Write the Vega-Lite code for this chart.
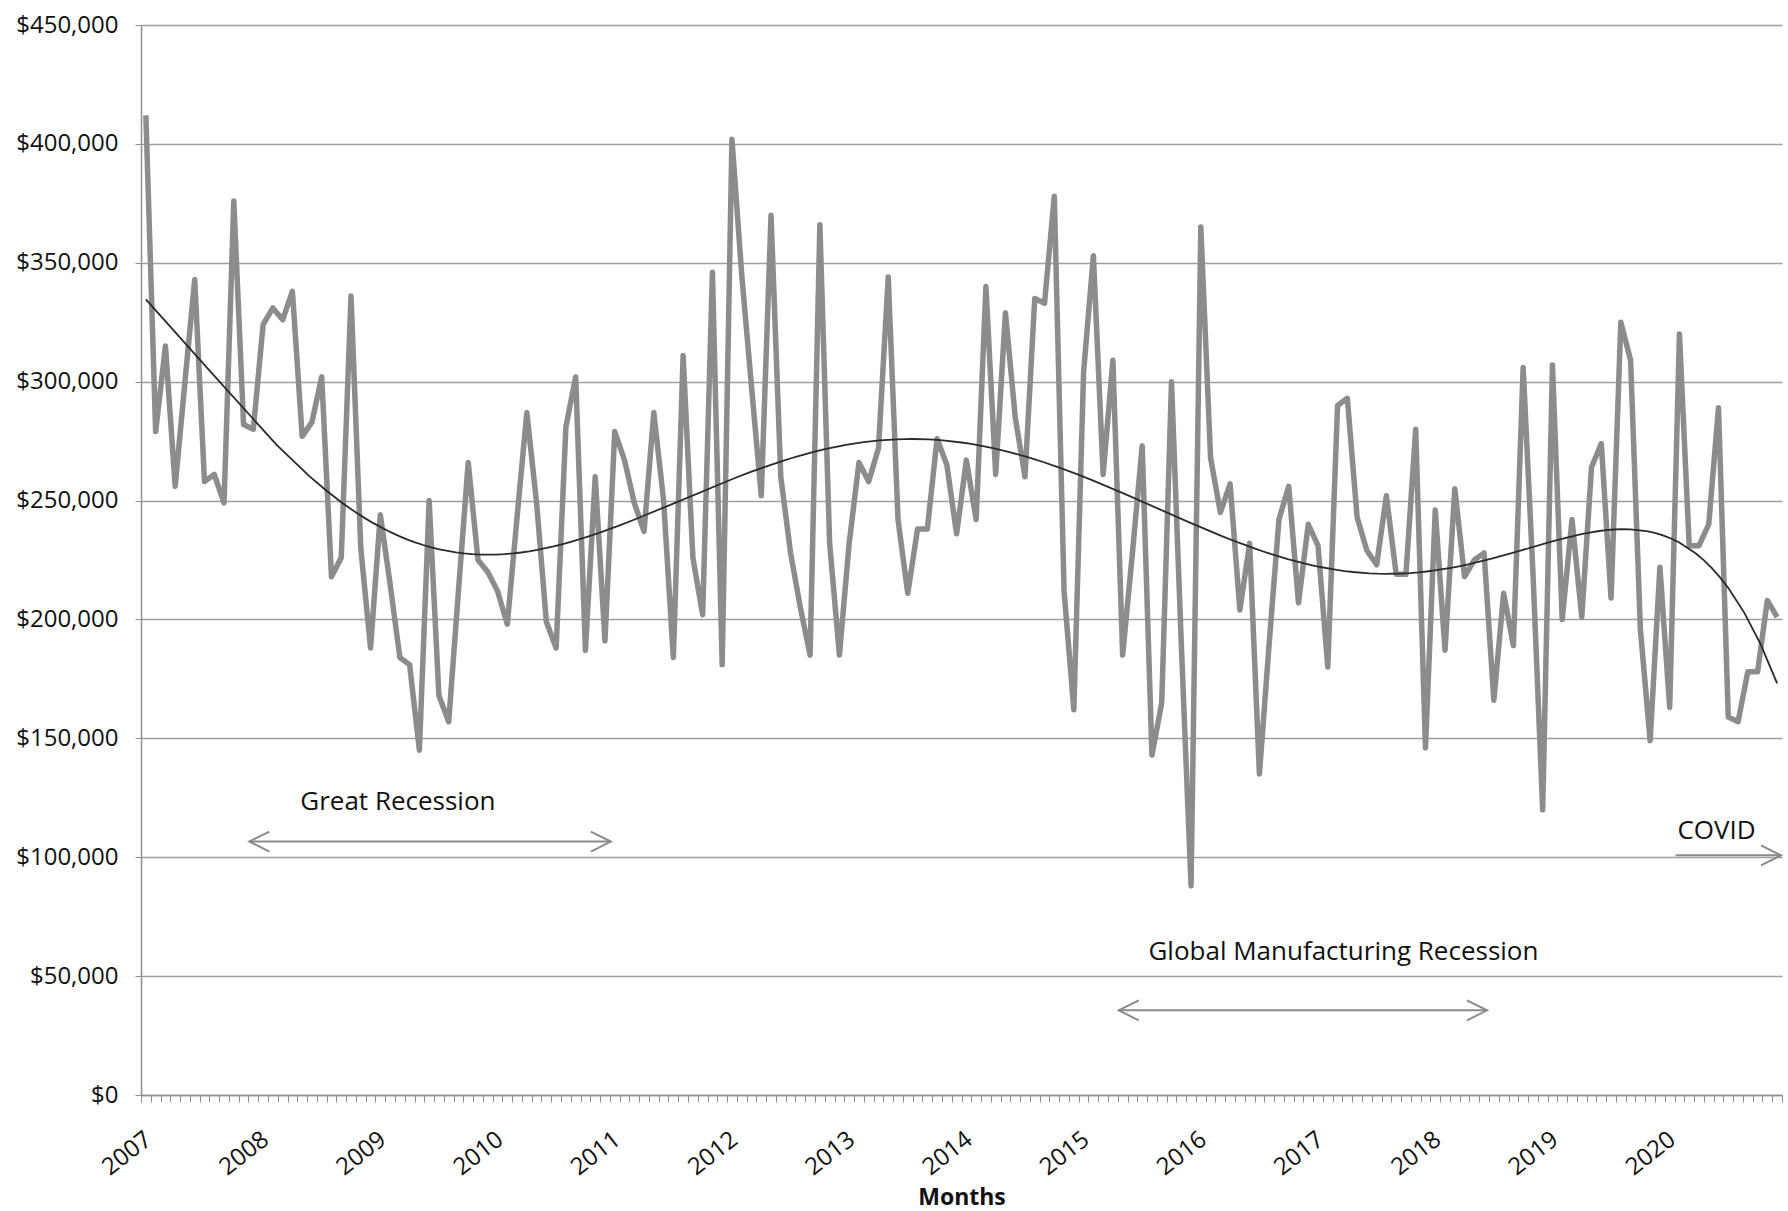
{
  "$schema": "https://vega.github.io/schema/vega-lite/v6.json",
  "width": 1641,
  "height": 1070,
  "autosize": {"type": "none"},
  "padding": {"left": 141, "top": 25, "right": 6, "bottom": 116},
  "background": "white",
  "config": {"view": {"stroke": null}, "font": "Open Sans"},
  "data": {"values": [
    {"month":"2007-01","m":0,"value":412000},{"month":"2007-02","m":1,"value":279000},{"month":"2007-03","m":2,"value":315000},{"month":"2007-04","m":3,"value":256000},{"month":"2007-05","m":4,"value":300000},{"month":"2007-06","m":5,"value":343000},{"month":"2007-07","m":6,"value":258000},{"month":"2007-08","m":7,"value":261000},{"month":"2007-09","m":8,"value":249000},{"month":"2007-10","m":9,"value":376000},{"month":"2007-11","m":10,"value":282000},{"month":"2007-12","m":11,"value":280000},
    {"month":"2008-01","m":12,"value":324000},{"month":"2008-02","m":13,"value":331000},{"month":"2008-03","m":14,"value":326000},{"month":"2008-04","m":15,"value":338000},{"month":"2008-05","m":16,"value":277000},{"month":"2008-06","m":17,"value":283000},{"month":"2008-07","m":18,"value":302000},{"month":"2008-08","m":19,"value":218000},{"month":"2008-09","m":20,"value":226000},{"month":"2008-10","m":21,"value":336000},{"month":"2008-11","m":22,"value":230000},{"month":"2008-12","m":23,"value":188000},
    {"month":"2009-01","m":24,"value":244000},{"month":"2009-02","m":25,"value":215000},{"month":"2009-03","m":26,"value":184000},{"month":"2009-04","m":27,"value":181000},{"month":"2009-05","m":28,"value":145000},{"month":"2009-06","m":29,"value":250000},{"month":"2009-07","m":30,"value":168000},{"month":"2009-08","m":31,"value":157000},{"month":"2009-09","m":32,"value":212000},{"month":"2009-10","m":33,"value":266000},{"month":"2009-11","m":34,"value":225000},{"month":"2009-12","m":35,"value":220000},
    {"month":"2010-01","m":36,"value":212000},{"month":"2010-02","m":37,"value":198000},{"month":"2010-03","m":38,"value":243000},{"month":"2010-04","m":39,"value":287000},{"month":"2010-05","m":40,"value":249000},{"month":"2010-06","m":41,"value":199000},{"month":"2010-07","m":42,"value":188000},{"month":"2010-08","m":43,"value":281000},{"month":"2010-09","m":44,"value":302000},{"month":"2010-10","m":45,"value":187000},{"month":"2010-11","m":46,"value":260000},{"month":"2010-12","m":47,"value":191000},
    {"month":"2011-01","m":48,"value":279000},{"month":"2011-02","m":49,"value":267000},{"month":"2011-03","m":50,"value":249000},{"month":"2011-04","m":51,"value":237000},{"month":"2011-05","m":52,"value":287000},{"month":"2011-06","m":53,"value":250000},{"month":"2011-07","m":54,"value":184000},{"month":"2011-08","m":55,"value":311000},{"month":"2011-09","m":56,"value":226000},{"month":"2011-10","m":57,"value":202000},{"month":"2011-11","m":58,"value":346000},{"month":"2011-12","m":59,"value":181000},
    {"month":"2012-01","m":60,"value":402000},{"month":"2012-02","m":61,"value":345000},{"month":"2012-03","m":62,"value":298000},{"month":"2012-04","m":63,"value":252000},{"month":"2012-05","m":64,"value":370000},{"month":"2012-06","m":65,"value":260000},{"month":"2012-07","m":66,"value":228000},{"month":"2012-08","m":67,"value":205000},{"month":"2012-09","m":68,"value":185000},{"month":"2012-10","m":69,"value":366000},{"month":"2012-11","m":70,"value":232000},{"month":"2012-12","m":71,"value":185000},
    {"month":"2013-01","m":72,"value":232000},{"month":"2013-02","m":73,"value":266000},{"month":"2013-03","m":74,"value":258000},{"month":"2013-04","m":75,"value":272000},{"month":"2013-05","m":76,"value":344000},{"month":"2013-06","m":77,"value":242000},{"month":"2013-07","m":78,"value":211000},{"month":"2013-08","m":79,"value":238000},{"month":"2013-09","m":80,"value":238000},{"month":"2013-10","m":81,"value":276000},{"month":"2013-11","m":82,"value":265000},{"month":"2013-12","m":83,"value":236000},
    {"month":"2014-01","m":84,"value":267000},{"month":"2014-02","m":85,"value":242000},{"month":"2014-03","m":86,"value":340000},{"month":"2014-04","m":87,"value":261000},{"month":"2014-05","m":88,"value":329000},{"month":"2014-06","m":89,"value":285000},{"month":"2014-07","m":90,"value":260000},{"month":"2014-08","m":91,"value":335000},{"month":"2014-09","m":92,"value":333000},{"month":"2014-10","m":93,"value":378000},{"month":"2014-11","m":94,"value":212000},{"month":"2014-12","m":95,"value":162000},
    {"month":"2015-01","m":96,"value":304000},{"month":"2015-02","m":97,"value":353000},{"month":"2015-03","m":98,"value":261000},{"month":"2015-04","m":99,"value":309000},{"month":"2015-05","m":100,"value":185000},{"month":"2015-06","m":101,"value":228000},{"month":"2015-07","m":102,"value":273000},{"month":"2015-08","m":103,"value":143000},{"month":"2015-09","m":104,"value":165000},{"month":"2015-10","m":105,"value":300000},{"month":"2015-11","m":106,"value":190000},{"month":"2015-12","m":107,"value":88000},
    {"month":"2016-01","m":108,"value":365000},{"month":"2016-02","m":109,"value":268000},{"month":"2016-03","m":110,"value":245000},{"month":"2016-04","m":111,"value":257000},{"month":"2016-05","m":112,"value":204000},{"month":"2016-06","m":113,"value":232000},{"month":"2016-07","m":114,"value":135000},{"month":"2016-08","m":115,"value":190000},{"month":"2016-09","m":116,"value":242000},{"month":"2016-10","m":117,"value":256000},{"month":"2016-11","m":118,"value":207000},{"month":"2016-12","m":119,"value":240000},
    {"month":"2017-01","m":120,"value":231000},{"month":"2017-02","m":121,"value":180000},{"month":"2017-03","m":122,"value":290000},{"month":"2017-04","m":123,"value":293000},{"month":"2017-05","m":124,"value":243000},{"month":"2017-06","m":125,"value":229000},{"month":"2017-07","m":126,"value":223000},{"month":"2017-08","m":127,"value":252000},{"month":"2017-09","m":128,"value":219000},{"month":"2017-10","m":129,"value":219000},{"month":"2017-11","m":130,"value":280000},{"month":"2017-12","m":131,"value":146000},
    {"month":"2018-01","m":132,"value":246000},{"month":"2018-02","m":133,"value":187000},{"month":"2018-03","m":134,"value":255000},{"month":"2018-04","m":135,"value":218000},{"month":"2018-05","m":136,"value":225000},{"month":"2018-06","m":137,"value":228000},{"month":"2018-07","m":138,"value":166000},{"month":"2018-08","m":139,"value":211000},{"month":"2018-09","m":140,"value":189000},{"month":"2018-10","m":141,"value":306000},{"month":"2018-11","m":142,"value":220000},{"month":"2018-12","m":143,"value":120000},
    {"month":"2019-01","m":144,"value":307000},{"month":"2019-02","m":145,"value":200000},{"month":"2019-03","m":146,"value":242000},{"month":"2019-04","m":147,"value":201000},{"month":"2019-05","m":148,"value":264000},{"month":"2019-06","m":149,"value":274000},{"month":"2019-07","m":150,"value":209000},{"month":"2019-08","m":151,"value":325000},{"month":"2019-09","m":152,"value":309000},{"month":"2019-10","m":153,"value":196000},{"month":"2019-11","m":154,"value":149000},{"month":"2019-12","m":155,"value":222000},
    {"month":"2020-01","m":156,"value":163000},{"month":"2020-02","m":157,"value":320000},{"month":"2020-03","m":158,"value":231000},{"month":"2020-04","m":159,"value":231000},{"month":"2020-05","m":160,"value":240000},{"month":"2020-06","m":161,"value":289000},{"month":"2020-07","m":162,"value":159000},{"month":"2020-08","m":163,"value":157000},{"month":"2020-09","m":164,"value":178000},{"month":"2020-10","m":165,"value":178000},{"month":"2020-11","m":166,"value":208000},{"month":"2020-12","m":167,"value":201000}
  ]},
  "encoding": {
    "x": {
      "field": "m", "type": "quantitative",
      "scale": {"domain": [-0.5, 167.5], "nice": false, "zero": false},
      "axis": {
        "title": "Months",
        "values": [-0.5,0.5,1.5,2.5,3.5,4.5,5.5,6.5,7.5,8.5,9.5,10.5,11.5,12.5,13.5,14.5,15.5,16.5,17.5,18.5,19.5,20.5,21.5,22.5,23.5,24.5,25.5,26.5,27.5,28.5,29.5,30.5,31.5,32.5,33.5,34.5,35.5,36.5,37.5,38.5,39.5,40.5,41.5,42.5,43.5,44.5,45.5,46.5,47.5,48.5,49.5,50.5,51.5,52.5,53.5,54.5,55.5,56.5,57.5,58.5,59.5,60.5,61.5,62.5,63.5,64.5,65.5,66.5,67.5,68.5,69.5,70.5,71.5,72.5,73.5,74.5,75.5,76.5,77.5,78.5,79.5,80.5,81.5,82.5,83.5,84.5,85.5,86.5,87.5,88.5,89.5,90.5,91.5,92.5,93.5,94.5,95.5,96.5,97.5,98.5,99.5,100.5,101.5,102.5,103.5,104.5,105.5,106.5,107.5,108.5,109.5,110.5,111.5,112.5,113.5,114.5,115.5,116.5,117.5,118.5,119.5,120.5,121.5,122.5,123.5,124.5,125.5,126.5,127.5,128.5,129.5,130.5,131.5,132.5,133.5,134.5,135.5,136.5,137.5,138.5,139.5,140.5,141.5,142.5,143.5,144.5,145.5,146.5,147.5,148.5,149.5,150.5,151.5,152.5,153.5,154.5,155.5,156.5,157.5,158.5,159.5,160.5,161.5,162.5,163.5,164.5,165.5,166.5,167.5],
        "labelExpr": "((datum.value + 0.5) % 12 === 0 && datum.value < 160) ? ('' + (2007 + (datum.value + 0.5) / 12)) : ''",
        "labelAngle": -38,
        "labelAlign": "right",
        "labelBaseline": "top",
        "labelFontSize": 24,
        "labelColor": "#111111",
        "labelPadding": 25,
        "labelOverlap": false,
        "labelFlush": false,
        "labelBound": false,
        "tickSize": 7,
        "tickColor": "#8f8f8f",
        "tickWidth": 1,
        "domainColor": "#8f8f8f",
        "domainWidth": 1.5,
        "grid": false,
        "titleFontSize": 23,
        "titleFontWeight": "bold",
        "titleColor": "#111111",
        "titlePadding": 7
      }
    },
    "y": {
      "field": "value", "type": "quantitative",
      "scale": {"domain": [0, 450000], "nice": false, "zero": true},
      "axis": {
        "title": null,
        "values": [0,50000,100000,150000,200000,250000,300000,350000,400000,450000],
        "format": "$,.0f",
        "labelFontSize": 24,
        "labelColor": "#111111",
        "labelPadding": 17,
        "tickSize": 6,
        "tickColor": "#8f8f8f",
        "domainColor": "#8f8f8f",
        "domainWidth": 1.5,
        "grid": true,
        "gridColor": "#9e9e9e",
        "gridWidth": 1.5
      }
    }
  },
  "layer": [
    {
      "mark": {"type": "line", "color": "#8c8c8c", "strokeWidth": 5.5, "strokeJoin": "round"}
    },
    {
      "transform": [{"regression": "value", "on": "m", "method": "poly", "order": 6, "extent": [0, 167]}],
      "mark": {"type": "line", "color": "#2a2a2a", "strokeWidth": 1.8}
    },
    {
      "data": {"values": [
        {"label": "Great Recession", "m": 10.6, "m2": 47.6, "value": 106600},
        {"label": "Global Manufacturing Recession", "m": 99.6, "m2": 137.3, "value": 35600},
        {"label": "COVID", "m": 156.6, "m2": 167.4, "value": 100800}
      ]},
      "mark": {"type": "rule", "color": "#8a8a8a", "strokeWidth": 2},
      "encoding": {"x2": {"field": "m2"}}
    },
    {
      "data": {"values": [
        {"label": "Great Recession", "m": 10.6, "value": 106600},
        {"label": "Global Manufacturing Recession", "m": 99.6, "value": 35600}
      ]},
      "mark": {"type": "point", "shape": "M2,-1L0,0L2,1", "size": 400, "filled": false, "color": "#8a8a8a", "strokeWidth": 2, "opacity": 1}
    },
    {
      "data": {"values": [
        {"label": "Great Recession", "m": 47.6, "value": 106600},
        {"label": "Global Manufacturing Recession", "m": 137.3, "value": 35600},
        {"label": "COVID", "m": 167.4, "value": 100800}
      ]},
      "mark": {"type": "point", "shape": "M-2,-1L0,0L-2,1", "size": 400, "filled": false, "color": "#8a8a8a", "strokeWidth": 2, "opacity": 1}
    },
    {
      "data": {"values": [
        {"label": "Great Recession", "m": 25.8, "value": 120000},
        {"label": "Global Manufacturing Recession", "m": 122.6, "value": 56800},
        {"label": "COVID", "m": 160.8, "value": 107800}
      ]},
      "mark": {"type": "text", "fontSize": 26, "color": "#111111", "align": "center", "baseline": "alphabetic", "font": "Open Sans"},
      "encoding": {"text": {"field": "label"}}
    }
  ]
}
